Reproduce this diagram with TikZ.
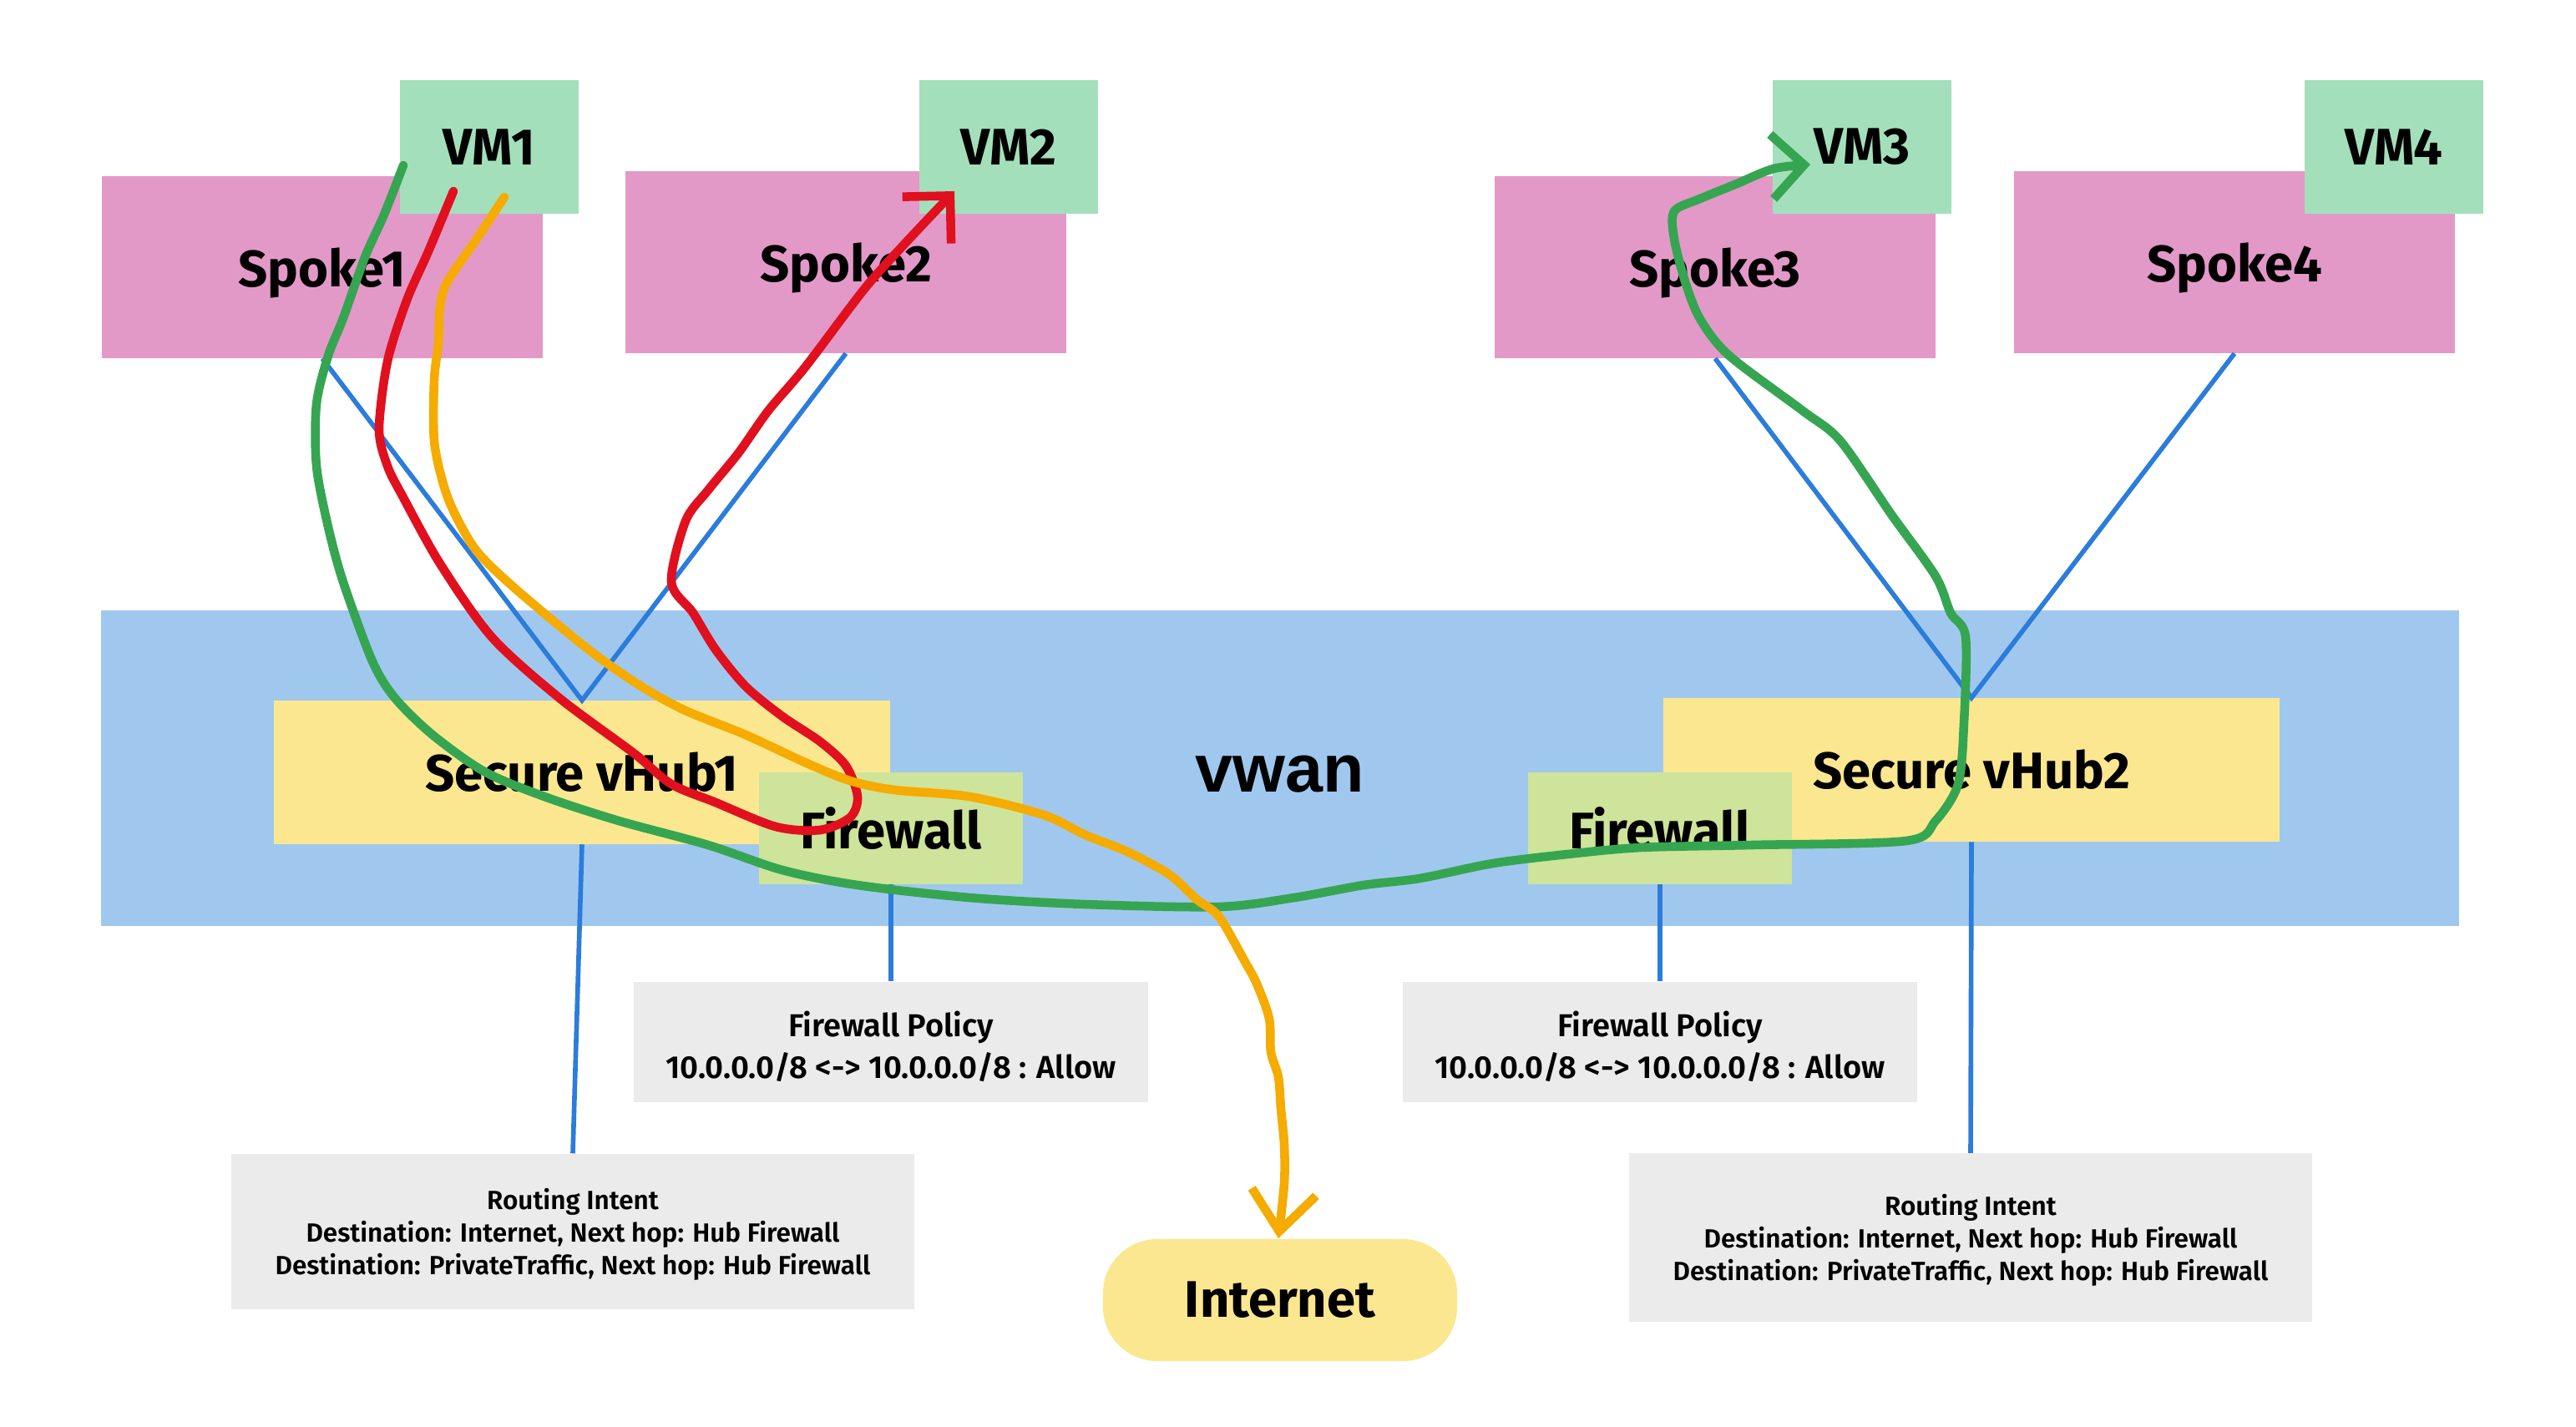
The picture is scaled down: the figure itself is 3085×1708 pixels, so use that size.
\documentclass[tikz,border=0pt]{standalone}
\usepackage{fontspec}
\setmainfont{Fira Sans}
\newfontface\semib{Fira Sans SemiBold}
\newfontfamily\arialf{Liberation Sans}
\usetikzlibrary{arrows.meta}

\definecolor{spokepink}{HTML}{E399C7}
\definecolor{vmgreen}{HTML}{A4DFBB}
\definecolor{wanblue}{HTML}{A0C8EF}
\definecolor{hubyellow}{HTML}{FBE78F}
\definecolor{fwgreen}{HTML}{CDE49A}
\definecolor{boxgray}{HTML}{EBEBEB}
\definecolor{linkblue}{HTML}{2B7CDB}
\definecolor{pathgreen}{HTML}{36A551}
\definecolor{pathred}{HTML}{E0101E}
\definecolor{pathorange}{HTML}{F5AB00}

\newcommand{\polhead}{\rule{0pt}{0.41cm}Firewall Policy}
\newcommand{\rihead}{\rule{0pt}{0.31cm}Routing Intent}

\tikzset{bigtext/.style = {font=\bfseries\fontsize{17.5}{20}\selectfont},
         spoke/.style = {bigtext, fill=spokepink, minimum width=5.28cm, minimum height=2.17cm, text depth=0pt},
         vm/.style = {bigtext, fill=vmgreen, minimum width=2.14cm, minimum height=1.59cm},
         hub/.style = {bigtext, fill=hubyellow, minimum width=7.37cm, minimum height=1.71cm},
         fw/.style = {bigtext, fill=fwgreen, minimum width=3.16cm, minimum height=1.33cm},
         policy/.style = {fill=boxgray, minimum width=6.16cm, minimum height=1.44cm, align=center,
                          font=\semib\fontsize{10.8}{14.2}\selectfont},
         intent/.style = {fill=boxgray, minimum width=8.18cm, minimum height=#1, align=center,
                          font=\semib\fontsize{8.95}{11.1}\selectfont},
         link/.style = {draw=linkblue, line width=1.6pt},
         trace/.style = {line width=3pt, line cap=round, line join=round},
         greenpath/.style = {trace, draw=pathgreen, -{Straight Barb[length=11pt, width=22pt]}},
         redpath/.style = {trace, draw=pathred, -{Straight Barb[length=11.5pt, width=23pt]}},
         orangepath/.style = {trace, draw=pathorange, -{Straight Barb[length=13.5pt, width=22pt]}}
        }

\begin{document}
\begin{tikzpicture}[x=0.01cm, y=-0.01cm, inner sep=0pt]
\useasboundingbox (0,0) rectangle (3085,1708);
% wan and hubs
\node[fill=wanblue, minimum width=28.23cm, minimum height=3.77cm, text height=0.56cm, text depth=0pt,
      font=\arialf\bfseries\fontsize{23}{26}\selectfont] at (1533,920) (vwan) {vwan};
\node[hub] at (697,925) (hub1) {Secure vHub1};
\node[hub] at (2361,922) (hub2) {Secure vHub2};
\node[fw] at (1067,992) (fw1) {Firewall};
\node[fw] at (1988,992) (fw2) {Firewall};
% spokes
\node[spoke] at (386,320) (spoke1) {Spoke1};
\node[spoke] at (1013,314) (spoke2) {Spoke2};
\node[spoke] at (2054,320) (spoke3) {Spoke3};
\node[spoke] at (2676,314) (spoke4) {Spoke4};
\node[vm] at (586,176) (vm1) {VM1};
\node[vm] at (1208,176) (vm2) {VM2};
\node[vm] at (2230,176) (vm3) {VM3};
\node[vm] at (2867,176) (vm4) {VM4};
% policies
\node[policy] at (1067,1248) (pol1) {\polhead\\10.0.0.0/8 <-> 10.0.0.0/8 : Allow};
\node[policy] at (1988,1248) (pol2) {\polhead\\10.0.0.0/8 <-> 10.0.0.0/8 : Allow};
\node[intent=1.86cm] at (686,1475) (ri1) {\rihead\\Destination: Internet, Next hop: Hub Firewall\\Destination: PrivateTraffic, Next hop: Hub Firewall};
\node[intent=2.01cm] at (2360,1482) (ri2) {\rihead\\Destination: Internet, Next hop: Hub Firewall\\Destination: PrivateTraffic, Next hop: Hub Firewall};
\node[bigtext, fill=hubyellow, minimum width=4.24cm, minimum height=1.46cm,
      rounded corners=0.65cm] at (1533,1557) (inet) {Internet};
% links
\draw[link] (spoke1.south) -- (hub1.north) -- (spoke2.south);
\draw[link] (spoke3.south) -- (hub2.north) -- (spoke4.south);
\draw[link] (hub1.south) -- (ri1.north);
\draw[link] (hub2.south) -- (ri2.north);
\draw[link] (fw1.south) -- (pol1.north);
\draw[link] (fw2.south) -- (pol2.north);
% traffic
\coordinate (gstart) at (483,198);
\coordinate (gend) at (2168,197);
\coordinate (rstart) at (543,229);
\coordinate (rend) at (1143,229);
\coordinate (ostart) at (604,236);
\coordinate (oend) at (1531,1483);
\draw[greenpath] plot[smooth] coordinates {(gstart) (460,257) (437,308) (411,381) (393,426)
  (379,484) (379,558) (393,631) (411,697) (446,792) (473,836) (518,880) (580,924) (652,954)
  (741,983) (848,1012) (937,1042) (1027,1060) (1161,1075) (1300,1083) (1460,1086) (1550,1075)
  (1633,1060) (1700,1052) (1788,1034) (1877,1023) (1965,1015) (2098,1012) (2283,1007) (2318,983)
  (2345,939) (2352,866) (2354,763) (2336,734) (2318,690) (2265,616) (2204,528) (2159,492)
  (2071,426) (2036,382) (2018,337) (2005,286) (2005,253) (2036,238) (2080,220) (2124,202) (gend)};
\draw[redpath] plot[smooth] coordinates {(rstart) (513,301) (487,360) (464,433) (454,514)
  (464,558) (482,594) (527,675) (589,763) (670,836) (759,902) (804,939) (857,961) (929,990)
  (982,994) (1018,979) (1027,954) (1013,917) (982,888) (937,858) (893,822) (857,778) (830,734)
  (804,697) (821,624) (848,587) (884,543) (920,492) (964,440) (1036,345) (1089,286) (rend)};
\draw[orangepath] plot[smooth] coordinates {(ostart) (571,286) (536,337) (527,367) (525,411)
  (520,455) (520,528) (531,580) (545,616) (571,660) (616,704) (705,778) (768,822) (821,851)
  (893,880) (964,913) (1018,935) (1071,946) (1161,954) (1250,976) (1300,1000) (1350,1020)
  (1400,1047) (1433,1077) (1460,1098) (1490,1150) (1505,1178) (1520,1220) (1522,1260)
  (1531,1290) (1534,1328) (1538,1371) (1538,1417) (oend)};
\end{tikzpicture}
\end{document}
